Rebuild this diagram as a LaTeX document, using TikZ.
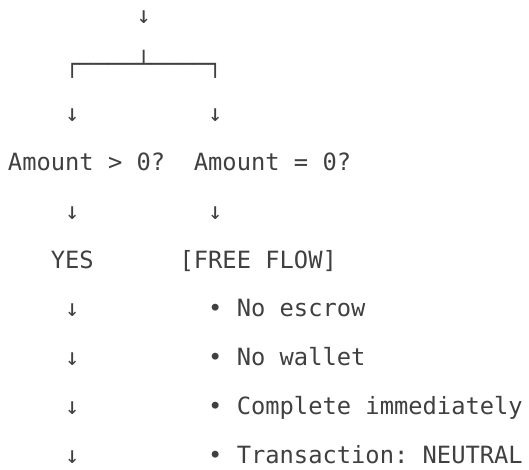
\documentclass[tikz,border=0pt]{standalone}
\usepackage{fontspec}
\newfontfamily\monofont{DejaVu Sans Mono}
\definecolor{inkgray}{RGB}{64,64,64}
\tikzset{
  txt/.style={anchor=base west,inner sep=0pt,outer sep=0pt,text=inkgray,
    font=\monofont\fontsize{23.75}{49}\selectfont}
}
\frenchspacing
\begin{document}
\begin{tikzpicture}[x=1pt,y=-1pt]
    \def\cw{14.3}
    \def\lh{48.8}
    \useasboundingbox (0,0) rectangle (529,470);
    \node[txt] (A0_9) at ({8+9*\cw},{24+0*\lh}) {↓};
    \node[txt] (A1_4) at ({8+4*\cw},{24+1*\lh}) {┌────┴────┐};
    \node[txt] (A2_4) at ({8+4*\cw},{24+2*\lh}) {↓};
    \node[txt] (A2_14) at ({8+14*\cw},{24+2*\lh}) {↓};
    \node[txt] (A3_0) at ({8+0*\cw},{24+3*\lh}) {Amount > 0?};
    \node[txt] (A3_13) at ({8+13*\cw},{24+3*\lh}) {Amount = 0?};
    \node[txt] (A4_4) at ({8+4*\cw},{24+4*\lh}) {↓};
    \node[txt] (A4_14) at ({8+14*\cw},{24+4*\lh}) {↓};
    \node[txt] (A5_3) at ({8+3*\cw},{24+5*\lh}) {YES};
    \node[txt] (A5_12) at ({8+12*\cw},{24+5*\lh}) {[FREE FLOW]};
    \node[txt] (A6_4) at ({8+4*\cw},{24+6*\lh}) {↓};
    \node[txt] (A6_14) at ({8+14*\cw},{24+6*\lh}) {• No escrow};
    \node[txt] (A7_4) at ({8+4*\cw},{24+7*\lh}) {↓};
    \node[txt] (A7_14) at ({8+14*\cw},{24+7*\lh}) {• No wallet};
    \node[txt] (A8_4) at ({8+4*\cw},{24+8*\lh}) {↓};
    \node[txt] (A8_14) at ({8+14*\cw},{24+8*\lh}) {• Complete immediately};
    \node[txt] (A9_4) at ({8+4*\cw},{24+9*\lh}) {↓};
    \node[txt] (A9_14) at ({8+14*\cw},{24+9*\lh}) {• Transaction: NEUTRAL};
\end{tikzpicture}
\end{document}
